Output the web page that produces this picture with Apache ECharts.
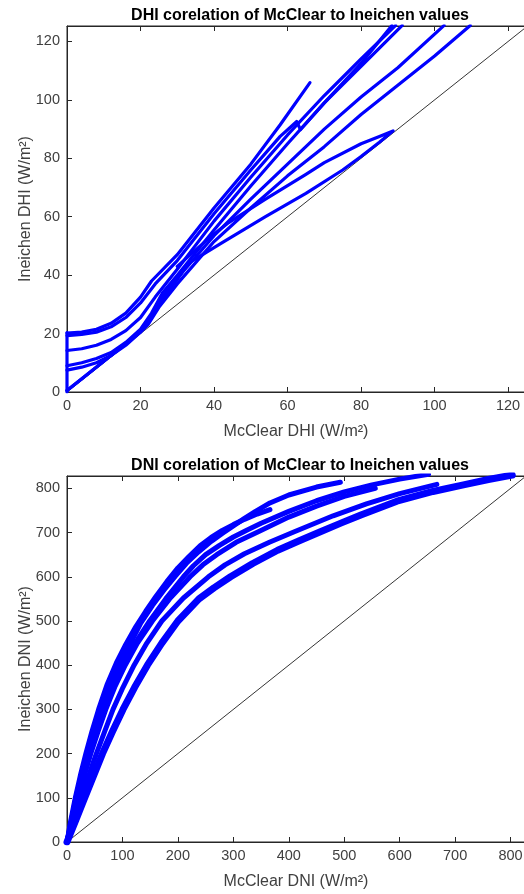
<!DOCTYPE html>
<html>
<head>
<meta charset="utf-8">
<script src="https://cdn.jsdelivr.net/npm/echarts@6/dist/echarts.min.js"></script>
<style>
html,body{margin:0;padding:0;background:#fff;}
#chart{width:524px;height:894px;}
</style>
</head>
<body>
<div id="chart"></div>
<script>
// ---------- DATA ----------
const titles = ['DHI corelation of McClear to Ineichen values', 'DNI corelation of McClear to Ineichen values'];
const xNames = ['McClear DHI (W/m²)', 'McClear DNI (W/m²)'];
const yNames = ['Ineichen DHI (W/m²)', 'Ineichen DNI (W/m²)'];
const dhiRange = [0, 124.6, 0, 125.3];
const dniRange = [0, 826, 0, 828];
const dhiTickStep = 20;
const dniTickStep = 100;

// DHI strands [McClear, Ineichen]
const dhiZero = [[0,0],[0,20.3]];
const dhiA = [[0,20.2],[4,20.5],[8,21.5],[12,23.5],[16,27],[20,32.5],[23,38],[30,47],[40,63],[50,78],[58,91.5],[66.1,105.9]];
const dhiB = [[0,19.3],[4,19.7],[8,20.5],[12,22.3],[16,25.5],[20,30.5],[24,37],[30,45],[40,61],[50,76],[58,87.5],[62.5,92.6],[63.5,89.8],[70,99],[80,112.5],[88.4,125.5]];
const dhiC = [[0,14.2],[4,14.8],[8,16],[12,18],[16,21],[20,25.5],[24,32.5],[30,42],[40,58.5],[50,73.5],[60,88],[70,101.5],[80,114],[89.4,125.5]];
const dhiD = [[0,9],[4,10],[8,11.5],[12,13.5],[16,17],[20,21.5],[23,27],[26,34],[30,40],[40,55.5],[50,70.5],[60,85],[70,99],[80,111.5],[91.2,125.5]];
const dhiE = [[0,7.5],[4,8.5],[8,10],[12,12.5],[16,16],[20,20.5],[22,24],[25,31],[30,39],[40,53.5],[50,66],[60,78],[70,90],[80,101],[90,111],[102.6,125.5]];
const dhiF = [[0,0.5],[5,5.5],[10,10.5],[15,15.5],[20,20.5],[22,23],[25,29],[30,37],[40,51.5],[50,63],[60,74],[70,84],[80,95],[90,105],[100,115],[109.7,125.5]];
const dhiG = [[0,0.5],[10,10.5],[20,20.8],[22,23.5],[25,30],[30,38.5],[33,44],[42,51],[54,60],[65,68],[75,76],[80,80.6],[85,85.5],[88.7,89.4],[85,87.5],[80,85],[70,78.5],[65,74.5],[54,66],[44,58],[38,52],[30,43]];

// DNI strands [McClear, Ineichen]
const dniE1 = [[0,0],[7,50],[15,100],[24,150],[34,200],[45,250],[57,300],[72,355],[89,405],[106,447],[124,487],[142,522],[160,555],[180,589],[200,620],[220,646],[240,670],[260,689],[280,705],[300,718],[320,730],[343,742],[366,752]];
const dniE2 = [[0,0],[8,50],[16,100],[26,150],[37,200],[49,250],[61,300],[77,350],[95,400],[114,448],[133,495],[154,535],[175,570],[195,601],[215,630],[237,656],[260,680],[280,698],[300,715],[320,732],[340,748],[366,767],[400,785],[450,803],[493,814]];
const dniE3 = [[0,0],[9,50],[18,100],[29,150],[41,200],[54,250],[67,300],[83,350],[101,400],[123,450],[149,500],[178,550],[210,600],[228,625],[250,650],[275,671],[300,690],[325,706],[350,721],[400,748],[450,772],[500,792],[550,808],[600,821],[652,832]];
const dniE6 = [[0,0],[9,50],[19,100],[31,150],[43,200],[56,250],[70,300],[86,350],[105,400],[127,450],[154,500],[185,550],[222,600],[245,627],[270,650],[305,678],[345,702],[400,735],[450,760],[500,782],[556,800]];
const dniE4 = [[0,0],[12,50],[25,100],[39,150],[53,200],[68,250],[83,300],[101,350],[121,400],[144,450],[171,500],[210,552],[255,600],[285,627],[320,652],[365,678],[410,702],[445,720],[480,738],[540,765],[600,788],[667,809]];
const dniE5 = [[0,0],[16,50],[32,100],[48,150],[64,200],[82,250],[101,300],[122,350],[145,400],[171,450],[200,500],[238,550],[265,575],[295,600],[335,630],[380,660],[420,682],[457,702],[495,722],[530,740],[595,771],[660,793],[715,808],[760,820],[803,830]];

// ---------- CHART ----------
const dark = '#262626';
const labelCol = '#404040';
const blue = '#0000ff';
const font = 'Liberation Sans, Arial, sans-serif';

function stepFmt(step){ return v => (Math.abs(v/step - Math.round(v/step)) < 1e-6) ? String(Math.round(v)) : ''; }

function mkX(grid, r, step, name, top){
  return {
    type:'value', gridIndex:grid, min:r[0], max:r[1], interval:step,
    position: top ? 'top' : 'bottom',
    name: top ? '' : name, nameLocation:'middle', nameGap:32, nameMoveOverlap:false,
    nameTextStyle:{color:labelCol, fontSize:16, fontFamily:font},
    axisLine:{show:true, onZero:false, lineStyle:{color:dark, width:1}},
    axisTick:{show:true, inside:true, length:5, lineStyle:{color:dark}},
    axisLabel:{show:!top, color:labelCol, fontSize:14.5, fontFamily:font, margin:6, formatter:stepFmt(step), showMaxLabel:false},
    splitLine:{show:false}
  };
}
function mkY(grid, r, step, name){
  return {
    type:'value', gridIndex:grid, min:r[2], max:r[3], interval:step,
    name:name, nameLocation:'middle', nameGap:33, nameRotate:90, nameMoveOverlap:false,
    nameTextStyle:{color:labelCol, fontSize:16, fontFamily:font},
    axisLine:{show:true, onZero:false, lineStyle:{color:dark, width:1}},
    axisTick:{show:true, inside:true, length:5, lineStyle:{color:dark}},
    axisLabel:{color:labelCol, fontSize:14.5, fontFamily:font, margin:7, formatter:stepFmt(step)},
    splitLine:{show:false}
  };
}
function strand(data, xi, yi, w){
  return {type:'line', xAxisIndex:xi, yAxisIndex:yi, data:data, showSymbol:false, symbol:'none',
    lineStyle:{color:blue, width:w, cap:'round', join:'round'}, silent:true, animation:false, smooth:false, clip:true};
}
function diag(r, xi, yi){
  return {type:'line', xAxisIndex:xi, yAxisIndex:yi, data:[[0,0],[r[3]+5, r[3]+5]], showSymbol:false, symbol:'none',
    lineStyle:{color:'#000', width:0.8}, silent:true, animation:false, clip:true, z:1};
}

const chart = echarts.init(document.getElementById('chart'), null, {renderer:'canvas'});
const dhiSeries = [dhiZero, dhiA, dhiB, dhiC, dhiD, dhiE, dhiF, dhiG];
const dniSeries = [dniE1, dniE2, dniE3, dniE6, dniE4, dniE5];
const series = [diag(dhiRange,0,0), diag(dniRange,2,1)];
dhiSeries.forEach(d => series.push(strand(d,0,0,3.2)));
dniSeries.forEach((d,i) => series.push(strand(d,2,1, i===5 ? 7 : 5)));

chart.setOption({
  backgroundColor:'#fff',
  animation:false,
  title:[
    {text:titles[0], left:295, top:3, textAlign:'center', textStyle:{fontSize:16, fontWeight:'bold', color:'#000', fontFamily:font}},
    {text:titles[1], left:295, top:453, textAlign:'center', textStyle:{fontSize:16, fontWeight:'bold', color:'#000', fontFamily:font}}
  ],
  grid:[
    {left:67, top:26, width:458, height:366, show:true, borderColor:dark, borderWidth:1, containLabel:false, outerBoundsMode:'none'},
    {left:67, top:476, width:458, height:366, show:true, borderColor:dark, borderWidth:1, containLabel:false, outerBoundsMode:'none'}
  ],
  xAxis:[
    mkX(0, dhiRange, dhiTickStep, xNames[0], false),
    mkX(0, dhiRange, dhiTickStep, '', true),
    mkX(1, dniRange, dniTickStep, xNames[1], false),
    mkX(1, dniRange, dniTickStep, '', true)
  ],
  yAxis:[
    mkY(0, dhiRange, dhiTickStep, yNames[0]),
    mkY(1, dniRange, dniTickStep, yNames[1])
  ],
  series:series
});
</script>
</body>
</html>
